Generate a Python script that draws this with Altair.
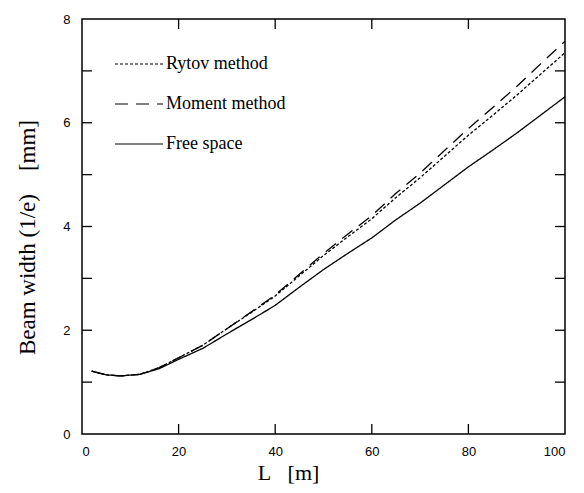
import altair as alt
import pandas as pd

L = [2, 5, 8, 12, 16, 20, 25, 30, 35, 40, 45, 50, 55, 60, 65, 70, 75, 80, 85, 90, 95, 100]
free_space = [1.21, 1.14, 1.12, 1.15, 1.26, 1.44, 1.65, 1.93, 2.20, 2.48, 2.83, 3.17, 3.48, 3.78, 4.13, 4.45, 4.80, 5.15, 5.47, 5.80, 6.15, 6.50]
rytov = [1.21, 1.14, 1.12, 1.15, 1.28, 1.47, 1.71, 2.03, 2.34, 2.66, 3.05, 3.44, 3.80, 4.15, 4.56, 4.94, 5.35, 5.76, 6.14, 6.53, 6.94, 7.35]
moment = [1.21, 1.14, 1.12, 1.15, 1.28, 1.47, 1.71, 2.03, 2.35, 2.68, 3.08, 3.48, 3.85, 4.21, 4.64, 5.03, 5.46, 5.89, 6.29, 6.70, 7.14, 7.57]

series_names = ["Rytov method", "Moment method", "Free space"]
x_tick_values = [0, 20, 40, 60, 80, 100]
x_inner_ticks = [20, 40, 60, 80]
y_label_values = [0, 2, 4, 6, 8]
y_inner_ticks = [1, 2, 3, 4, 5, 6, 7]

NB = "\u00a0"
x_title = "L" + NB * 3 + "[m]"
y_title = "Beam width (1/e)" + NB * 4 + "[mm]"

rows = []
for name, vals in zip(series_names, [rytov, moment, free_space]):
    for l, v in zip(L, vals):
        rows.append({"L": l, "w": v, "series": name})
df = pd.DataFrame(rows)

W, H = 483, 415
TICK = 10

xscale = alt.Scale(domain=[0, 100], nice=False, zero=False)
yscale = alt.Scale(domain=[0, 8], nice=False, zero=False)

lines = alt.Chart(df).mark_line(color="black", strokeWidth=1.3).encode(
    x=alt.X("L:Q", scale=xscale,
            axis=alt.Axis(values=x_tick_values, title=x_title, grid=False, domain=False,
                          ticks=False, labelPadding=11, labelFont="Liberation Sans",
                          labelFontSize=13, labelColor="black", titleFont="Liberation Serif",
                          titleFontSize=22, titleFontWeight="normal", titleColor="black",
                          titleX=206, titleY=38, titleBaseline="middle", titleAlign="center")),
    y=alt.Y("w:Q", scale=yscale,
            axis=alt.Axis(values=y_label_values, title=y_title, grid=False,
                          domain=False, ticks=False, labelPadding=12, labelFont="Liberation Sans",
                          labelFontSize=13, labelColor="black", titleFont="Liberation Serif",
                          titleFontSize=23, titleFontWeight="normal", titleColor="black",
                          titleX=-55, titleY=218, titleBaseline="middle", titleAlign="center",
                          titleAngle=270)),
    strokeDash=alt.StrokeDash("series:N",
                              scale=alt.Scale(domain=series_names,
                                              range=[[3, 2], [13, 8], [1, 0]]),
                              sort=series_names,
                              legend=alt.Legend(title=None, orient="none", legendX=44, legendY=32,
                                                symbolType="M-2,0H2", symbolSize=576,
                                                symbolStrokeColor="black", symbolStrokeWidth=1.2,
                                                labelOffset=14, labelFont="Liberation Serif",
                                                labelFontSize=18, labelColor="black",
                                                rowPadding=18, padding=0)),
    detail="series:N",
)

xt = pd.DataFrame({"t": x_inner_ticks})
yt = pd.DataFrame({"t": y_inner_ticks})

bottom_ticks = alt.Chart(xt).mark_rule(color="black", strokeWidth=1.3).encode(
    x=alt.X("t:Q", scale=xscale), y=alt.value(H), y2=alt.value(H - TICK))
top_ticks = alt.Chart(xt).mark_rule(color="black", strokeWidth=1.3).encode(
    x=alt.X("t:Q", scale=xscale), y=alt.value(0), y2=alt.value(TICK))
left_ticks = alt.Chart(yt).mark_rule(color="black", strokeWidth=1.3).encode(
    y=alt.Y("t:Q", scale=yscale), x=alt.value(0), x2=alt.value(TICK))
right_ticks = alt.Chart(yt).mark_rule(color="black", strokeWidth=1.3).encode(
    y=alt.Y("t:Q", scale=yscale), x=alt.value(W), x2=alt.value(W - TICK))

chart = alt.layer(lines, bottom_ticks, top_ticks, left_ticks, right_ticks).properties(
    width=W, height=H,
    autosize=alt.AutoSizeParams(type="none"),
    padding={"left": 74, "top": 11, "right": 11, "bottom": 52},
    background="white",
).configure_view(stroke="black", strokeWidth=1.5)

chart.save("out.html", embed_options={"renderer": "svg", "actions": False})
